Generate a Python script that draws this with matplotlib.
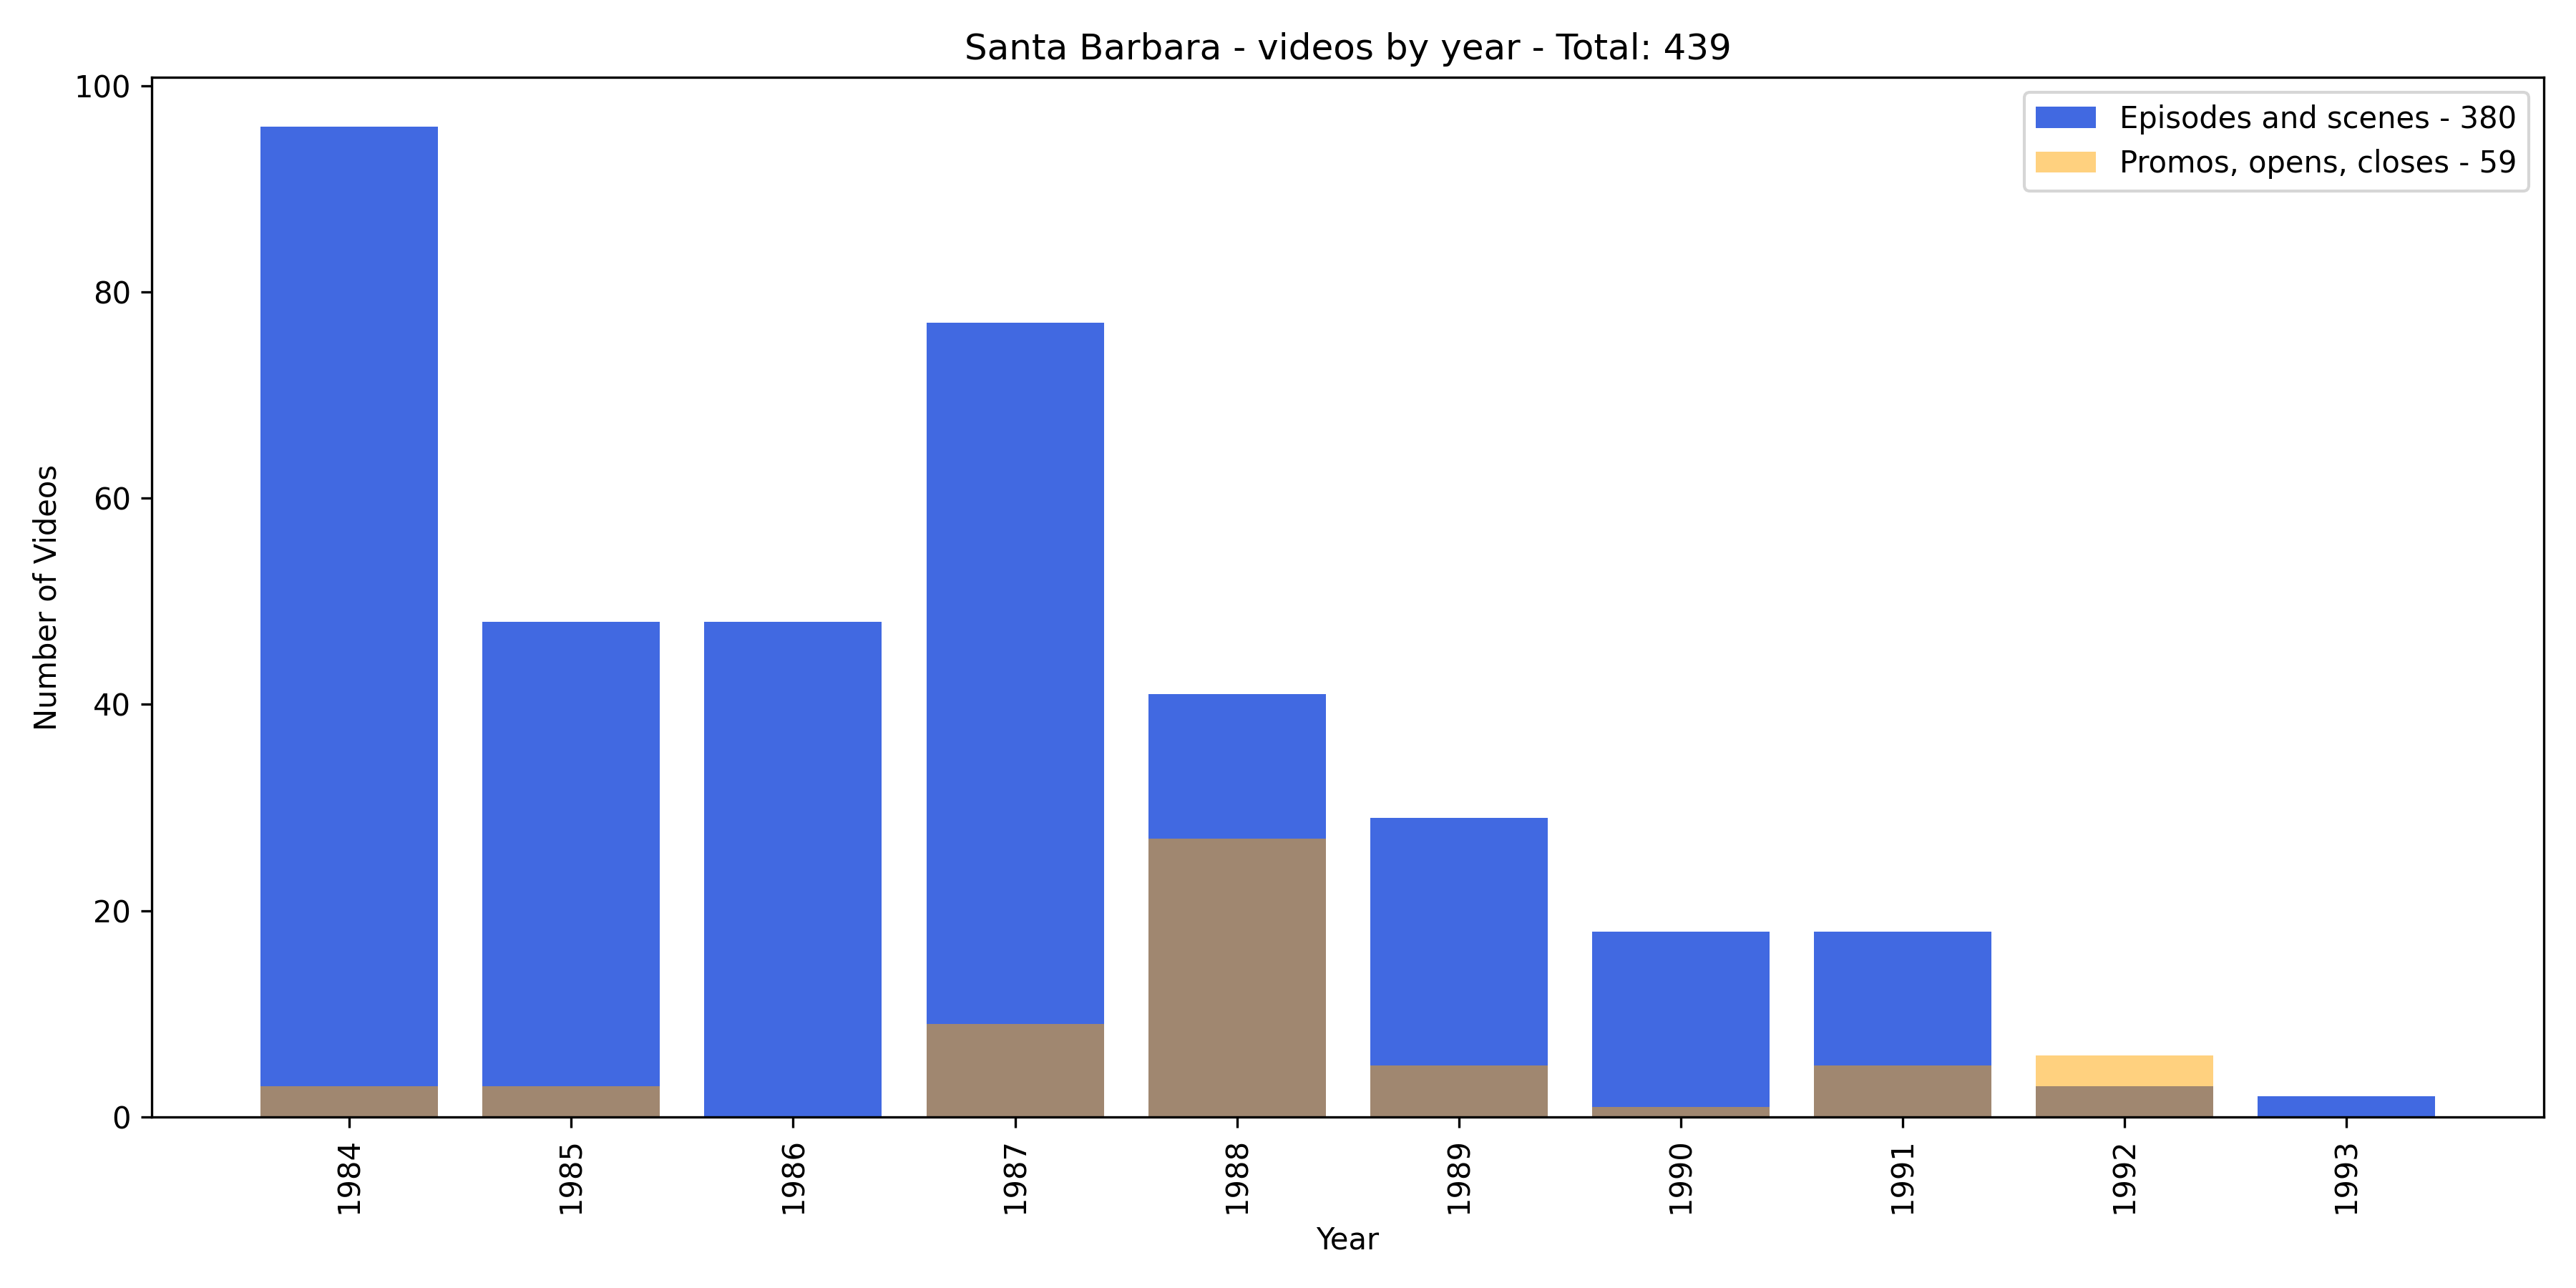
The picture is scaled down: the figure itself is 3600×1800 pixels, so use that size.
import matplotlib
matplotlib.use("Agg")
import matplotlib.pyplot as plt

years = ["1984", "1985", "1986", "1987", "1988", "1989", "1990", "1991", "1992", "1993"]
episodes = [96, 48, 48, 77, 41, 29, 18, 18, 3, 2]
promos = [3, 3, 0, 9, 27, 5, 1, 5, 6, 0]

total = sum(episodes) + sum(promos)

fig, ax = plt.subplots(figsize=(12, 6), dpi=300)
ax.bar(years, episodes, color="royalblue", label="Episodes and scenes - " + str(sum(episodes)))
ax.bar(years, promos, color="orange", alpha=0.5, label="Promos, opens, closes - " + str(sum(promos)))

ax.set_title("Santa Barbara - videos by year - Total: " + str(total))
ax.set_xlabel("Year")
ax.set_ylabel("Number of Videos")
plt.xticks(rotation=90)
ax.legend(loc="upper right")

plt.tight_layout()
plt.savefig("out.png")
